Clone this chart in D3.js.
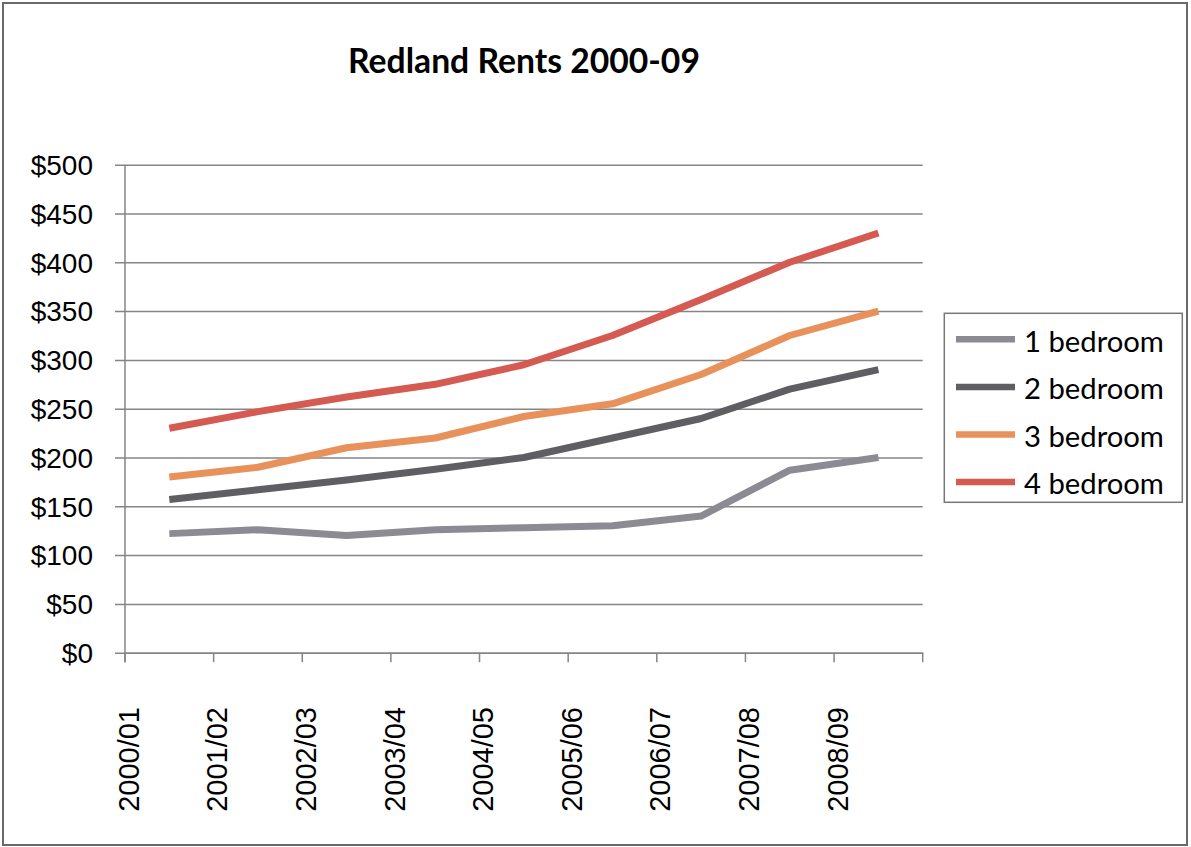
<!DOCTYPE html>
<html>
<head>
<meta charset="utf-8">
<script src="https://cdn.jsdelivr.net/npm/d3@7"></script>
<style>
  html, body { margin: 0; padding: 0; background: #fff; }
  svg { display: block; }
</style>
</head>
<body>
<svg id="chart" width="1191" height="847"></svg>
<script>
// ---- data ----
const categories = ["2000/01","2001/02","2002/03","2003/04","2004/05","2005/06","2006/07","2007/08","2008/09"];
const seriesNames = ["1 bedroom","2 bedroom","3 bedroom","4 bedroom"];
const oneBed   = [122, 126, 120, 126, 128, 130, 140, 187, 200];
const twoBed   = [157, 167, 177, 188, 200, 220, 240, 270, 290];
const threeBed = [180, 190, 210, 220, 242, 255, 285, 325, 350];
const fourBed  = [230, 247, 262, 275, 295, 325, 362, 400, 430];
const yTicks   = [0, 50, 100, 150, 200, 250, 300, 350, 400, 450, 500];
const chartTitle = "Redland Rents 2000-09";

(function () {
const seriesValues = [oneBed, twoBed, threeBed, fourBed];
const colors = ["#8C8B94", "#5E5E63", "#E8915A", "#D45A52"];

const svg = d3.select("#chart");

// outer border
svg.append("rect").attr("x", 3).attr("y", 3).attr("width", 1184).attr("height", 842)
  .attr("fill", "#fff").attr("stroke", "#6a6a6a").attr("stroke-width", 2);

const pLeft = 125, pRight = 922.7, pTop = 164.7, pBottom = 652.7;

const x = d3.scaleBand().domain(categories).range([pLeft, pRight]).padding(0);
const y = d3.scaleLinear().domain([0, 500]).range([pBottom, pTop]);

const axisFont = "'Liberation Sans', Arial, sans-serif";

// gridlines + y labels via axis
const yAxis = d3.axisLeft(y).tickValues(yTicks).tickSize(0).tickPadding(0)
  .tickFormat(d => "$" + d);
const gy = svg.append("g").attr("transform", `translate(${pRight},0)`).call(yAxis);
gy.select(".domain").remove();
gy.selectAll(".tick line").attr("x1", 0).attr("x2", -(pRight - 115))
  .attr("stroke", "#858585").attr("stroke-width", 1.5);
gy.selectAll(".tick text")
  .attr("x", -(pRight - 93)).attr("dy", "0.35em")
  .attr("text-anchor", "end")
  .style("font-family", axisFont).style("font-size", "28px").attr("fill", "#000");

// y axis line
svg.append("line").attr("x1", pLeft).attr("x2", pLeft).attr("y1", pTop).attr("y2", pBottom + 9.5)
  .attr("stroke", "#858585").attr("stroke-width", 1.5);

// x axis
const xAxis = d3.axisBottom(x).tickSize(0).tickPadding(0);
const gx = svg.append("g").attr("transform", `translate(0,${pBottom})`).call(xAxis);
gx.select(".domain").attr("stroke", "#858585").attr("stroke-width", 1.5);
gx.selectAll(".tick text")
  .attr("transform", function () {
    const off = -x.bandwidth() / 2 + 3.5;
    return `translate(${off},${707 - pBottom}) rotate(-90)`;
  })
  .attr("x", 0).attr("y", 0).attr("dy", "0.35em")
  .attr("text-anchor", "end")
  .style("font-family", axisFont).style("font-size", "29px").attr("fill", "#000");

// x tick marks at band edges
const edges = categories.map(c => x(c)).concat([x.range()[1]]);
svg.append("g").selectAll("line").data(edges).join("line")
  .attr("x1", d => d).attr("x2", d => d).attr("y1", pBottom).attr("y2", pBottom + 9.5)
  .attr("stroke", "#858585").attr("stroke-width", 1.5);

// lines
const line = d3.line()
  .x((d, i) => x(categories[i]) + x.bandwidth() / 2)
  .y(d => y(d));
svg.append("g").selectAll("path").data(seriesValues).join("path")
  .attr("d", d => line(d))
  .attr("fill", "none")
  .attr("stroke", (d, i) => colors[i])
  .attr("stroke-width", 7)
  .attr("stroke-linejoin", "round");

// helper to fit text width
function fitWidth(sel, target) {
  const node = sel.node();
  const fs = parseFloat(sel.style("font-size"));
  const w = node.getComputedTextLength();
  if (w > 0) sel.style("font-size", (fs * target / w) + "px");
}

// title
const t = svg.append("text").attr("x", 524).attr("y", 73.3).attr("text-anchor", "middle")
  .style("font-family", "Lato, 'Open Sans', sans-serif").style("font-weight", "bold")
  .style("font-size", "30px").attr("fill", "#000").text(chartTitle);
fitWidth(t, 352);

// legend
svg.append("rect").attr("x", 944.3).attr("y", 313.3).attr("width", 238).attr("height", 189)
  .attr("fill", "#fff").attr("stroke", "#777").attr("stroke-width", 1.5);
const rowY = [339.3, 387, 434.6, 482];
const lg = svg.append("g");
seriesNames.forEach((name, i) => {
  lg.append("line").attr("x1", 956).attr("x2", 1015).attr("y1", rowY[i]).attr("y2", rowY[i])
    .attr("stroke", colors[i]).attr("stroke-width", 6.5);
  const tx = lg.append("text").attr("x", 1024).attr("y", rowY[i] + 12.4)
    .style("font-family", "Lato, 'Open Sans', sans-serif").style("font-size", "30px")
    .attr("fill", "#000").text(name);
  fitWidth(tx, 140);
});
})();
</script>
</body>
</html>
